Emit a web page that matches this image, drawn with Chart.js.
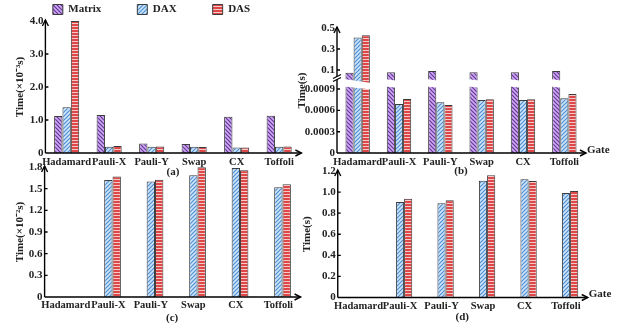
<!DOCTYPE html>
<html>
<head>
<meta charset="utf-8">
<script src="https://cdn.jsdelivr.net/npm/chart.js@4.4.1/dist/chart.umd.min.js"></script>
<style>
  html, body { margin: 0; padding: 0; background: #fff; }
  #wrap { position: relative; width: 622px; height: 328px; overflow: hidden; }
  canvas { position: absolute; }
</style>
</head>
<body>
<div id="wrap">
  <canvas id="legend" width="303" height="130" style="left:0;top:-32px"></canvas>
  <canvas id="chartA" width="311" height="181" style="left:0;top:0"></canvas>
  <canvas id="chartB" width="337" height="181" style="left:285px;top:0"></canvas>
  <canvas id="chartC" width="311" height="177" style="left:0;top:150px"></canvas>
  <canvas id="chartD" width="337" height="177" style="left:285px;top:150px"></canvas>
</div>
<script>
// ---------- data ----------
const gates = ['Hadamard', 'Pauli-X', 'Pauli-Y', 'Swap', 'CX', 'Toffoli'];
const methods = ['Matrix', 'DAX', 'DAS'];

// (a) time in 10^-3 s
const matrixA = [1.12, 1.15, 0.29, 0.27, 1.10, 1.13];
const daxA    = [1.39, 0.19, 0.19, 0.19, 0.17, 0.19];
const dasA    = [4.00, 0.21, 0.20, 0.18, 0.17, 0.20];

// (b) time in s, broken axis
const matrixB = [0.074, 0.078, 0.09, 0.078, 0.078, 0.09];
const daxB    = [0.41, 0.00069, 0.000714, 0.000746, 0.000746, 0.00077];
const dasB    = [0.43, 0.00076, 0.000676, 0.000756, 0.000756, 0.00083];
const ticksB  = [0, 0.0003, 0.0006, 0.0009, 0.1, 0.3, 0.5];

// (c) time in 10^-2 s (no Matrix / Hadamard runs)
const matrixC = [null, null, null, null, null, null];
const daxC    = [null, 1.62, 1.60, 1.685, 1.787, 1.52];
const dasC    = [null, 1.67, 1.625, 1.795, 1.755, 1.56];

// (d) time in s
const matrixD = [null, null, null, null, null, null];
const daxD    = [null, 0.906, 0.894, 1.108, 1.121, 0.991];
const dasD    = [null, 0.937, 0.922, 1.159, 1.105, 1.01];

// ---------- look ----------
const FONT = "'Liberation Serif', 'Times New Roman', serif";
Chart.defaults.font.family = FONT;
Chart.defaults.font.size = 11;
Chart.defaults.font.weight = 'bold';
Chart.defaults.color = '#222';
const EDGE = '#3c3c3c';

function makePattern(kind, bg, fg) {
  const c = document.createElement('canvas');
  c.width = 4;
  c.height = kind === 'h' ? 3 : 4;
  const g = c.getContext('2d');
  g.fillStyle = bg;
  g.fillRect(0, 0, c.width, c.height);
  if (kind === 'h') {
    g.fillStyle = fg;
    g.fillRect(0, 2, 4, 1);
  } else {
    g.strokeStyle = fg;
    g.lineWidth = 1.2;
    g.beginPath();
    if (kind === 'back') {
      g.moveTo(-1, -1); g.lineTo(5, 5);
      g.moveTo(-1, 3); g.lineTo(1, 5);
      g.moveTo(3, -1); g.lineTo(5, 1);
    } else {
      g.moveTo(-1, 5); g.lineTo(5, -1);
      g.moveTo(-1, 1); g.lineTo(1, -1);
      g.moveTo(3, 5); g.lineTo(5, 3);
    }
    g.stroke();
  }
  return g.createPattern(c, 'repeat');
}

const fills = [
  makePattern('back', '#cfa9f5', '#633596'),
  makePattern('fwd', '#cfe5fa', '#4d8fd4'),
  makePattern('h', '#dd4747', '#f6c9c9')
];

// ---------- broken linear scale for (b) ----------
class BrokenScale extends Chart.LinearScale {
  static id = 'broken';
  static defaults = Chart.LinearScale.defaults;
  buildTicks() {
    return this.options.breakTicks.map(value => ({ value }));
  }
  toDecimal(v) {
    const { lowMax, highMin, lowFrac, highFrac } = this.options;
    if (v <= lowMax) return v / lowMax * lowFrac;
    if (v >= highMin) return highFrac + (v - highMin) / (this.max - highMin) * (1 - highFrac);
    return lowFrac + (v - lowMax) / (highMin - lowMax) * (highFrac - lowFrac);
  }
  getPixelForValue(v) {
    return this.getPixelForDecimal(this.toDecimal(v));
  }
  getValueForPixel(p) {
    const { lowMax, highMin, lowFrac, highFrac } = this.options;
    const d = this.getDecimalForPixel(p);
    if (d <= lowFrac) return d / lowFrac * lowMax;
    if (d >= highFrac) return highMin + (d - highFrac) / (1 - highFrac) * (this.max - highMin);
    return lowMax + (d - lowFrac) / (highFrac - lowFrac) * (highMin - lowMax);
  }
}
Chart.register(BrokenScale);

// ---------- plugins ----------
const decor = {
  id: 'decor',
  afterDraw(chart, args, opts) {
    const { ctx, chartArea: { left, right, top, bottom } } = chart;
    const ys = chart.scales.y;
    ctx.save();
    ctx.strokeStyle = '#000';
    ctx.fillStyle = '#000';
    ctx.lineWidth = 1.4;
    ctx.beginPath();
    ctx.moveTo(left, bottom); ctx.lineTo(left, top - 1);
    ctx.moveTo(left, bottom); ctx.lineTo(right + 1, bottom);
    ys.ticks.forEach(t => {
      if (t.value === 0 || t.value === ys.max) return;
      const py = ys.getPixelForValue(t.value);
      ctx.moveTo(left, py); ctx.lineTo(left + 3, py);
    });
    ctx.stroke();
    ctx.beginPath();
    ctx.moveTo(left - 3, top + 5); ctx.lineTo(left, top - 1); ctx.lineTo(left + 3, top + 5);
    ctx.moveTo(right - 5, bottom - 3); ctx.lineTo(right + 1, bottom); ctx.lineTo(right - 5, bottom + 3);
    ctx.stroke();
    if (opts.gate) {
      ctx.font = 'bold 11px ' + FONT;
      ctx.textAlign = 'left';
      ctx.textBaseline = 'middle';
      ctx.fillStyle = '#222';
      ctx.fillText('Gate', right + 2, bottom - 3);
    }
    if (opts.broken) {
      const yb = (ys.getPixelForValue(ys.options.highMin) + ys.getPixelForValue(ys.options.lowMax)) / 2 - 5;
      ctx.fillStyle = '#fff';
      ctx.beginPath();
      ctx.moveTo(left - 4, yb + 2); ctx.lineTo(left + 4, yb - 2);
      ctx.lineTo(left + 4, yb + 1); ctx.lineTo(left - 4, yb + 5);
      ctx.closePath();
      ctx.fill();
      ctx.lineWidth = 1.2;
      ctx.beginPath();
      ctx.moveTo(left - 4, yb + 2); ctx.lineTo(left + 4, yb - 2);
      ctx.moveTo(left - 4, yb + 5); ctx.lineTo(left + 4, yb + 1);
      ctx.stroke();
    }
    ctx.restore();
  }
};

const breakBand = {
  id: 'breakBand',
  afterDatasetsDraw(chart) {
    const { ctx } = chart;
    const ys = chart.scales.y;
    const yHi = ys.getPixelForValue(ys.options.highMin);
    const yLo = ys.getPixelForValue(ys.options.lowMax);
    const first = chart.getDatasetMeta(0).data;
    const last = chart.getDatasetMeta(2).data;
    ctx.save();
    ctx.fillStyle = '#fff';
    first.forEach((bar, i) => {
      const l = bar.x - bar.width / 2 - 1.5;
      const r = last[i].x + last[i].width / 2 + 1.5;
      ctx.beginPath();
      ctx.moveTo(l, yHi + 1.5);
      ctx.lineTo(r, yHi + 5.5);
      ctx.lineTo(r, yLo + 4);
      ctx.lineTo(l, yLo + 1);
      ctx.closePath();
      ctx.fill();
    });
    ctx.restore();
  }
};

// ---------- builders ----------
function datasets(m, x, s) {
  return [m, x, s].map((data, i) => ({
    label: methods[i],
    data,
    backgroundColor: fills[i],
    borderColor: EDGE,
    borderWidth: 1,
    categoryPercentage: 0.59,
    barPercentage: 1
  }));
}

const oneDecimal = v => (v === 0 ? '0' : Number(v).toFixed(1));

function makeChart(id, cfg) {
  const plugins = [decor];
  if (cfg.broken) plugins.unshift(breakBand);
  return new Chart(document.getElementById(id), {
    type: 'bar',
    data: { labels: gates, datasets: datasets(...cfg.series) },
    plugins,
    options: {
      responsive: false,
      animation: false,
      events: [],
      layout: { padding: cfg.pad },
      plugins: {
        legend: { display: false },
        tooltip: { enabled: false },
        decor: { gate: cfg.gate, broken: cfg.broken }
      },
      scales: {
        x: {
          grid: { display: false, drawTicks: false },
          border: { display: false },
          ticks: { autoSkip: false, maxRotation: 0, minRotation: 0, padding: cfg.xTickPad, font: { size: 10.5 } },
          title: { display: true, text: cfg.xTitle, padding: { top: 0, bottom: cfg.xTitlePad } },
          afterFit: s => { s.height = cfg.xHeight; }
        },
        y: Object.assign({
          grid: { display: false, drawTicks: false },
          border: { display: false },
          title: { display: true, text: cfg.yTitle, padding: { top: cfg.yTitlePad, bottom: 0 } },
          afterFit: s => { s.width = cfg.yWidth; }
        }, cfg.y)
      }
    }
  });
}

// legend (top, shared)
new Chart(document.getElementById('legend'), {
  type: 'bar',
  data: { labels: [], datasets: datasets([], [], []) },
  options: {
    responsive: false,
    animation: false,
    events: [],
    scales: { x: { display: false }, y: { display: false } },
    plugins: {
      tooltip: { enabled: false },
      legend: { maxHeight: 100, labels: { boxWidth: 10, boxHeight: 10, padding: 36, color: '#222' } }
    }
  }
});

makeChart('chartA', {
  series: [matrixA, daxA, dasA],
  pad: { left: 10, right: 10.6, top: 21, bottom: 0 },
  yWidth: 35.4, xHeight: 28, xTickPad: 3, xTitle: '(a)', xTitlePad: 2,
  yTitle: 'Time(×10⁻³s)', yTitlePad: 3.4,
  y: { min: 0, max: 4, ticks: { stepSize: 1, padding: 2, callback: oneDecimal } }
});

makeChart('chartB', {
  series: [matrixB, daxB, dasB],
  broken: true, gate: true,
  pad: { left: 8, right: 37, top: 28, bottom: 0 },
  yWidth: 44, xHeight: 28, xTickPad: 3, xTitle: '(b)', xTitlePad: 3.7,
  yTitle: 'Time(s)', yTitlePad: 2.4,
  y: {
    type: 'broken', min: 0, max: 0.5,
    breakTicks: ticksB, lowMax: 0.00095, highMin: 0.03, lowFrac: 0.54, highFrac: 0.605,
    ticks: { padding: 2, callback: v => String(v) }
  }
});

makeChart('chartC', {
  series: [matrixC, daxC, dasC],
  pad: { left: 10, right: 11.4, top: 17, bottom: 0 },
  yWidth: 34.6, xHeight: 30, xTickPad: 2, xTitle: '(c)', xTitlePad: 2,
  yTitle: 'Time(×10⁻²s)', yTitlePad: 3.4,
  y: { min: 0, max: 1.8, ticks: { stepSize: 0.3, padding: 2, callback: oneDecimal } }
});

makeChart('chartD', {
  series: [matrixD, daxD, dasD],
  gate: true,
  pad: { left: 8, right: 35.25, top: 21, bottom: 0 },
  yWidth: 44.75, xHeight: 29.5, xTickPad: 2, xTitle: '(d)', xTitlePad: 3.4,
  yTitle: 'Time(s)', yTitlePad: 7.1,
  y: { min: 0, max: 1.2, ticks: { stepSize: 0.2, padding: 2, callback: oneDecimal } }
});
</script>
</body>
</html>
